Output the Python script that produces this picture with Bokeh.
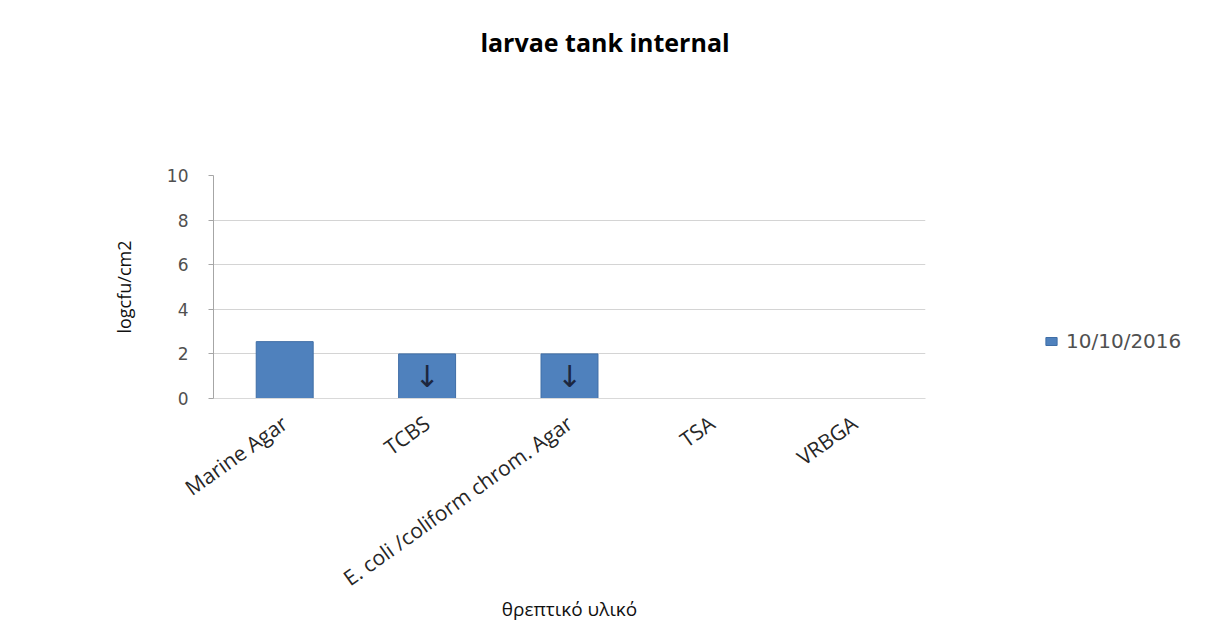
import math
from bokeh.plotting import figure
from bokeh.layouts import column
from bokeh.models import ColumnDataSource, Legend, LegendItem, FactorRange, Range1d, FixedTicker, Div
from bokeh.core.properties import value
from bokeh.embed import file_html
from bokeh.resources import INLINE

# ---- data ----
categories = ["Marine Agar", "TCBS", "E. coli /coliform chrom. Agar", "TSA", "VRBGA"]
values_2016 = [2.55, 2.0, 2.0, 0.0, 0.0]
series_name = "10/10/2016"
arrow_categories = ["TCBS", "E. coli /coliform chrom. Agar"]
arrow_y = [1.0, 1.0]
y_ticks = [0, 2, 4, 6, 8, 10]
title_text = "larvae tank internal"
x_label = "θρεπτικό υλικό"
y_label = "logcfu/cm2"

BAR = "#4F81BD"

title_div = Div(text=title_text, width=1200, height=60,
                styles={"font-family": "Open Sans", "font-weight": "bold",
                        "font-size": "25px", "color": "#000000",
                        "text-align": "center", "padding-top": "21px",
                        "box-sizing": "border-box", "line-height": "1.3"})

p = figure(
    frame_width=712, frame_height=223,
    x_range=FactorRange(*categories, range_padding=0),
    y_range=Range1d(0, 10),
    output_backend="svg", toolbar_location=None,
    min_border_left=213, min_border_right=275,
    min_border_top=105, min_border_bottom=222,
)
p.background_fill_color = "white"
p.border_fill_color = "white"
p.outline_line_color = None

src = ColumnDataSource(dict(cat=categories, val=values_2016))
bars = p.vbar(x="cat", top="val", width=0.4, source=src,
              fill_color=BAR, line_color="#3f6ea6", line_width=1)

asrc = ColumnDataSource(dict(cat=arrow_categories, y=arrow_y, t=["↓"] * len(arrow_categories)))
p.text(x="cat", y="y", text="t", source=asrc, text_font=value("DejaVu Sans"),
       text_font_size="30px", text_color="#1c2740", text_align="center",
       text_baseline="middle")

# axes
p.yaxis.ticker = FixedTicker(ticks=y_ticks)
p.yaxis.minor_tick_line_color = None
p.yaxis.major_tick_out = 5
p.yaxis.major_tick_in = 0
p.yaxis.major_tick_line_color = "#a6a6a6"
p.yaxis.axis_line_color = "#a6a6a6"
p.yaxis.major_label_standoff = 20
p.yaxis.major_label_text_font = "DejaVu Sans"
p.yaxis.major_label_text_font_size = "17px"
p.yaxis.major_label_text_color = "#505050"
p.yaxis.axis_label = y_label
p.yaxis.axis_label_text_font = "Open Sans"
p.yaxis.axis_label_text_font_style = "normal"
p.yaxis.axis_label_text_font_size = "18px"
p.yaxis.axis_label_text_color = "#111111"
p.yaxis.axis_label_standoff = 28

p.xaxis.major_tick_line_color = None
p.xaxis.minor_tick_line_color = None
p.xaxis.axis_line_color = "#d9d9d9"
p.xaxis.major_label_orientation = 0.62
p.xaxis.major_label_standoff = 16
p.xaxis.major_label_text_font = "Open Sans"
p.xaxis.major_label_text_font_size = "21px"
p.xaxis.major_label_text_color = "#262626"
p.xaxis.axis_label = x_label
p.xaxis.axis_label_text_font = "Open Sans"
p.xaxis.axis_label_text_font_style = "normal"
p.xaxis.axis_label_text_font_size = "19px"
p.xaxis.axis_label_text_color = "#111111"
p.xaxis.axis_label_standoff = -10

p.xgrid.grid_line_color = None
p.ygrid.grid_line_color = "#d4d4d4"
p.ygrid.ticker = FixedTicker(ticks=y_ticks)

legend = Legend(items=[LegendItem(label=series_name, renderers=[bars])],
                location=(119, 45), padding=0, margin=0, border_line_color=None,
                background_fill_alpha=0, glyph_width=14, glyph_height=10,
                label_text_font="DejaVu Sans", label_text_font_size="20px",
                label_text_color="#505050", label_standoff=8)
p.add_layout(legend, "right")

layout = column(title_div, p, spacing=0)
open("out.html", "w").write(file_html(layout, INLINE))
